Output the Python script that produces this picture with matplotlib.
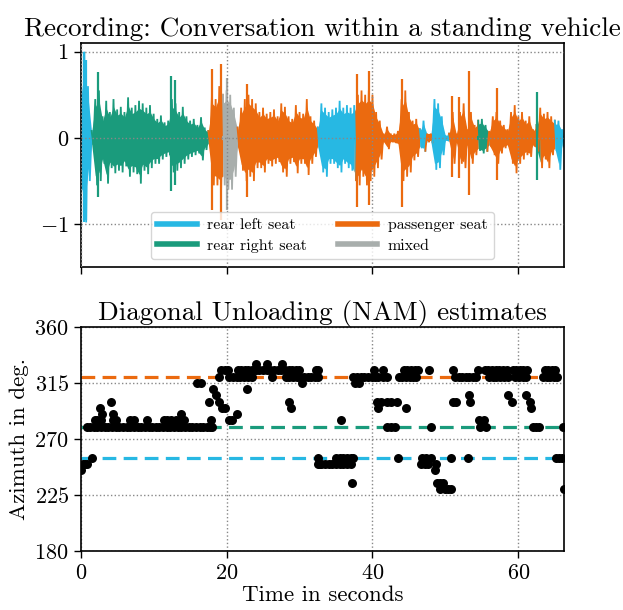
import numpy as np
import matplotlib
matplotlib.use("Agg")
import matplotlib.pyplot as plt
from matplotlib.lines import Line2D

plt.rcParams['font.family'] = ['cmr10']
plt.rcParams['mathtext.fontset'] = 'cm'
plt.rcParams['axes.formatter.use_mathtext'] = True

# ---------------- data: recording envelope (0.5 s sampling) ----------------
env_step = 0.5
env_top = [0.55, 1.00, 0.60, 0.08, 0.45, 0.55, 0.25, 0.43, 0.30, 0.45,
           0.33, 0.36, 0.30, 0.47, 0.35, 0.38, 0.43, 0.40, 0.35, 0.38,
           0.28, 0.22, 0.26, 0.18, 0.20, 0.45, 0.40, 0.30, 0.36, 0.25,
           0.20, 0.22, 0.15, 0.24, 0.12, 0.08, 0.50, 0.45, 0.60, 0.50,
           0.55, 0.50, 0.35, 0.12, 0.35, 0.45, 0.50, 0.45, 0.40, 0.30,
           0.35, 0.28, 0.30, 0.33, 0.25, 0.40, 0.36, 0.25, 0.22, 0.38,
           0.30, 0.28, 0.45, 0.25, 0.20, 0.12, 0.40, 0.35, 0.30, 0.33,
           0.35, 0.43, 0.35, 0.38, 0.35, 0.38, 0.50, 0.55, 0.50, 0.55,
           0.50, 0.30, 0.20, 0.05, 0.13, 0.05, 0.05, 0.08, 0.45, 0.55,
           0.30, 0.20, 0.22, 0.10, 0.20, 0.05, 0.05, 0.45, 0.40, 0.25,
           0.03, 0.05, 0.30, 0.05, 0.30, 0.40, 0.10, 0.30, 0.15, 0.20,
           0.22, 0.15, 0.08, 0.25, 0.30, 0.20, 0.15, 0.10, 0.30, 0.38,
           0.25, 0.30, 0.20, 0.25, 0.10, 0.15, 0.35, 0.28, 0.30, 0.25,
           0.20, 0.20, 0.10]
env_bot = [0.60, 0.98, 0.50, 0.08, 0.55, 0.50, 0.30, 0.53, 0.35, 0.41,
           0.38, 0.40, 0.33, 0.45, 0.40, 0.42, 0.53, 0.38, 0.42, 0.35,
           0.30, 0.30, 0.25, 0.22, 0.20, 0.40, 0.38, 0.35, 0.30, 0.25,
           0.22, 0.20, 0.18, 0.26, 0.14, 0.08, 0.55, 0.55, 0.60, 0.55,
           0.60, 0.60, 0.45, 0.12, 0.38, 0.50, 0.45, 0.50, 0.35, 0.35,
           0.40, 0.30, 0.33, 0.30, 0.28, 0.40, 0.45, 0.30, 0.28, 0.41,
           0.30, 0.30, 0.43, 0.30, 0.22, 0.12, 0.40, 0.45, 0.30, 0.30,
           0.35, 0.40, 0.30, 0.35, 0.38, 0.49, 0.55, 0.45, 0.55, 0.50,
           0.45, 0.35, 0.25, 0.05, 0.13, 0.05, 0.06, 0.08, 0.50, 0.45,
           0.40, 0.26, 0.22, 0.12, 0.15, 0.05, 0.05, 0.37, 0.35, 0.20,
           0.03, 0.05, 0.30, 0.06, 0.30, 0.35, 0.10, 0.30, 0.20, 0.15,
           0.18, 0.15, 0.10, 0.20, 0.30, 0.18, 0.12, 0.10, 0.30, 0.41,
           0.30, 0.25, 0.20, 0.22, 0.10, 0.15, 0.35, 0.25, 0.35, 0.20,
           0.15, 0.37, 0.10]

# isolated large peaks: time, positive peak, negative peak
spike_t   = [0.4, 0.7, 2.4, 12.4, 12.9, 18.0, 19.3, 20.1, 22.8, 37.9, 39.5,
             44.0, 50.9, 51.8, 53.2, 57.1, 62.6]
spike_top = [1.00, 0.90, 0.76, 0.72, 0.67, 0.80, 0.86, 0.70, 0.63, 0.74, 0.78,
             0.68, 0.49, 0.47, 0.78, 0.58, 0.53]
spike_bot = [0.98, 0.95, 0.68, 0.62, 0.55, 0.83, 0.95, 0.84, 0.68, 0.80, 0.78,
             0.80, 0.45, 0.47, 0.66, 0.49, 0.49]

# speaker segments
seg_start = [0.0, 1.5, 17.6, 19.4, 21.6, 32.6, 37.7, 46.6, 47.3, 48.2, 50.5,
             54.4, 55.8, 62.4, 62.8, 65.1]
seg_end   = [1.5, 17.6, 19.4, 21.6, 32.6, 37.7, 46.6, 47.3, 48.2, 50.5, 54.4,
             55.8, 62.4, 62.8, 65.1, 66.3]
seg_label = ['rear left seat', 'rear right seat', 'passenger seat', 'mixed',
             'passenger seat', 'rear left seat', 'passenger seat', 'rear left seat',
             'passenger seat', 'rear left seat', 'passenger seat', 'rear right seat',
             'passenger seat', 'rear right seat', 'passenger seat', 'rear left seat']

legend_labels = ['rear left seat', 'rear right seat', 'passenger seat', 'mixed']
seat_azimuth = {'rear left seat': 255, 'rear right seat': 280, 'passenger seat': 320}

# ---------------- data: DU estimates, grouped by azimuth ----------------
t_330 = [24.0, 25.6, 27.6]
t_325 = [19.3, 19.8, 20.2, 21.5, 22.0, 22.5, 23.0, 23.5, 24.0, 24.5, 25.0, 25.5,
         26.0, 26.5, 27.0, 27.5, 28.0, 28.5, 29.0, 29.5, 29.9, 32.2, 32.5, 40.2,
         41.4, 44.3, 44.8, 45.3, 45.8, 46.3, 47.8, 51.0, 54.5, 55.4, 55.9, 56.4,
         56.9, 57.4, 57.9, 58.4, 59.2, 59.7, 60.2, 60.7, 61.2, 63.6, 64.1, 64.6,
         65.0]
t_320 = [19.0, 20.4, 20.9, 21.4, 21.9, 22.4, 23.0, 23.5, 26.2, 28.1, 28.6, 29.1,
         29.6, 30.1, 30.6, 31.1, 31.6, 32.1, 32.6, 37.4, 37.9, 38.4, 38.9, 39.4,
         39.9, 40.4, 40.8, 41.5, 42.0, 43.6, 44.1, 44.6, 45.1, 45.6, 46.0, 51.3,
         51.8, 52.3, 52.8, 53.3, 53.8, 54.2, 56.0, 56.5, 57.0, 57.5, 58.0, 58.6,
         59.6, 60.1, 60.6, 61.1, 63.4, 63.9, 64.4, 64.9, 65.3]
t_315 = [16.0, 16.5, 30.3, 37.6, 38.2]
t_310 = [18.2, 22.8]
t_305 = [18.5, 53.2, 58.6, 61.1]
t_300 = [4.2, 17.6, 18.9, 28.6, 40.6, 41.2, 42.0, 42.5, 43.3, 51.1, 51.5, 53.4,
         59.1, 61.6]
t_295 = [2.6, 19.4, 19.8, 28.8, 40.7, 44.6, 61.8]
t_290 = [2.9, 4.4, 13.7, 21.4]
t_285 = [1.9, 2.3, 2.8, 4.4, 4.8, 6.7, 7.3, 9.1, 11.4, 11.9, 12.4, 13.0, 13.7,
         14.1, 17.9, 20.3, 20.8, 35.7, 54.6, 55.3]
t_280 = [0.8, 1.3, 1.8, 2.3, 2.8, 3.3, 3.8, 4.3, 4.8, 5.3, 5.8, 6.3, 6.8, 7.3,
         7.8, 8.3, 8.8, 9.3, 9.8, 10.3, 10.8, 11.3, 11.8, 12.3, 12.8, 13.3, 13.8,
         14.3, 14.8, 15.3, 15.8, 16.3, 16.8, 17.3, 17.7, 18.0, 42.0, 42.5, 43.1,
         48.0, 54.8, 55.5, 62.0, 62.4, 62.8, 66.1]
t_255 = [1.6, 32.6, 35.0, 35.5, 36.0, 36.5, 37.0, 37.3, 43.5, 46.8, 47.4, 48.0,
         50.8, 53.1, 65.2, 65.6, 66.0]
t_250 = [0.3, 0.6, 0.9, 32.5, 32.8, 33.0, 33.5, 34.0, 34.5, 35.0, 35.5, 36.0,
         36.5, 37.0, 46.7, 47.2, 47.6, 48.7]
t_245 = [0.1, 48.6]
t_235 = [37.2, 48.8, 49.2, 49.7]
t_230 = [49.3, 49.9, 50.4, 50.8, 66.3]

est_groups = [(330, t_330), (325, t_325), (320, t_320), (315, t_315), (310, t_310),
              (305, t_305), (300, t_300), (295, t_295), (290, t_290), (285, t_285),
              (280, t_280), (255, t_255), (250, t_250), (245, t_245), (235, t_235),
              (230, t_230)]

colors = {'rear left seat': '#27B8E3', 'rear right seat': '#1A9B7C',
          'passenger seat': '#EB6A0F', 'mixed': '#A8AEAC'}

# ---------------- figure ----------------
fig = plt.figure(figsize=(6.23, 6.10), dpi=100)
ax1 = fig.add_axes([0.1295, 0.5618, 0.7757, 0.3677])
ax2 = fig.add_axes([0.1295, 0.0964, 0.7757, 0.3679])

env_t = np.arange(len(env_top)) * env_step
top = np.array(env_top)
bot = np.array(env_bot)

# zig-zag texture between positive and negative envelope
zx = np.empty(2 * len(env_t))
zy = np.empty(2 * len(env_t))
zx[0::2] = env_t
zx[1::2] = env_t + env_step / 2
zy[0::2] = top
zy[1::2] = -bot

def seg_of(t):
    for s, e, lab in zip(seg_start, seg_end, seg_label):
        if s <= t < e:
            return lab
    return seg_label[-1]

for s, e, lab in zip(seg_start, seg_end, seg_label):
    c = colors[lab]
    m = (env_t >= s - 0.26) & (env_t <= e + 0.26)
    if m.sum() >= 2:
        ax1.fill_between(env_t[m], -0.8 * bot[m], 0.8 * top[m], color=c, lw=0)
    mz = (zx >= s - 0.13) & (zx < e + 0.13)
    ax1.plot(zx[mz], zy[mz], color=c, lw=1.3, solid_joinstyle='miter')
    ax1.plot([s, e], [0, 0], color=c, lw=3.0, solid_capstyle='butt')
for t, tp, bt in zip(spike_t, spike_top, spike_bot):
    ax1.vlines(t, -bt, tp, color=colors[seg_of(t)], lw=1.6)

ax1.set_xlim(0, 66.25)
ax1.set_ylim(-1.5, 1.1)
ax1.set_yticks([-1, 0, 1])
ax1.set_xticks([0, 20, 40, 60])
ax1.tick_params(labelbottom=False)
ax1.grid(True, linestyle=':', color='#888888', lw=1.0)
ax1.set_axisbelow(False)
ax1.set_title('Recording: Conversation within a standing vehicle', fontsize=19.5, pad=5)
handles = [Line2D([], [], color=colors[l], lw=4) for l in legend_labels]
ax1.legend(handles, legend_labels, loc='lower center', ncol=2, fontsize=11.5,
           handlelength=2.5, handletextpad=0.65, columnspacing=1.9,
           labelspacing=0.4, borderaxespad=0.5, framealpha=0.8)

# DU estimates
for az, ts in est_groups:
    ax2.scatter(ts, [az] * len(ts), s=42, color='black', zorder=3, linewidths=0)
for lab in ['passenger seat', 'rear right seat', 'rear left seat']:
    ax2.axhline(seat_azimuth[lab], color=colors[lab], lw=2.3, dashes=(4.3, 2.3), zorder=2)

ax2.set_xlim(0, 66.25)
ax2.set_ylim(180, 360)
ax2.set_yticks([180, 225, 270, 315, 360])
ax2.set_xticks([0, 20, 40, 60])
ax2.grid(True, linestyle=':', color='#888888', lw=1.0)
ax2.set_title('Diagonal Unloading (NAM) estimates', fontsize=19.5, pad=5)
ax2.set_xlabel('Time in seconds', fontsize=16.5, labelpad=2)
ax2.set_ylabel('Azimuth in deg.', fontsize=16.5, labelpad=4)

for ax in (ax1, ax2):
    ax.tick_params(labelsize=16, direction='out', length=5, width=1)
    for sp in ax.spines.values():
        sp.set_linewidth(1.2)

fig.savefig('out.png', dpi=100)
